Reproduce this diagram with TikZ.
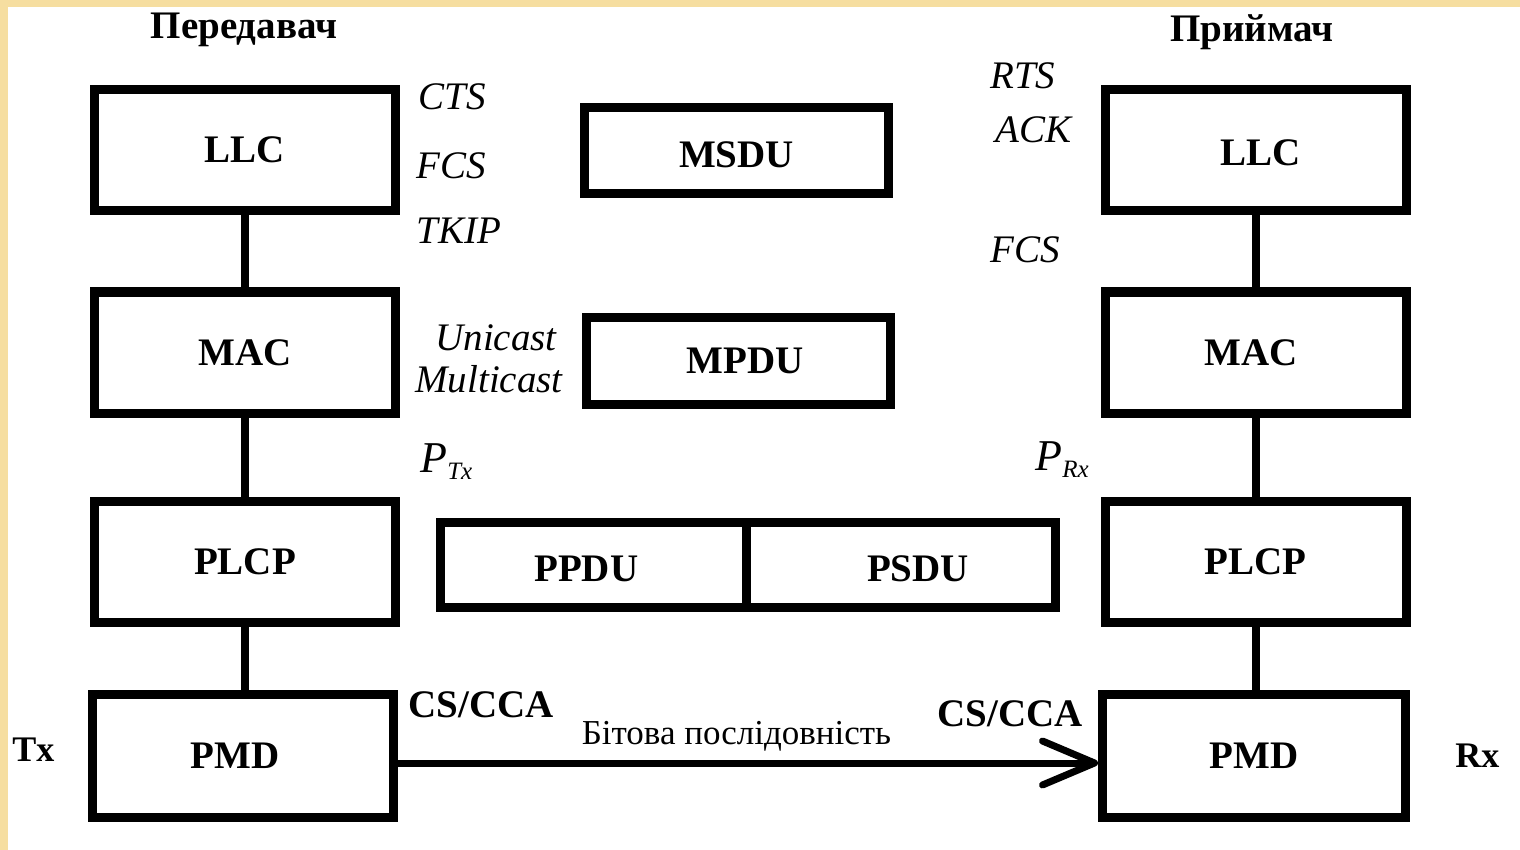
\documentclass[tikz,border=0pt]{standalone}
\usepackage{fontspec}
\setmainfont{Liberation Serif}
\usetikzlibrary{arrows.meta}
\definecolor{framecol}{RGB}{246,222,160}
\newcommand{\lowr}[2]{\raisebox{-#1}[\height][\depth]{#2}}
\begin{document}
\begin{tikzpicture}[x=0.5pt,y=-0.5pt,
  blk/.style={draw, line width=4.5pt, inner sep=0pt, minimum width=150.5pt, minimum height=60.5pt,
              font=\fontsize{19.5}{20}\selectfont\bfseries},
  pdu/.style={draw, line width=4.5pt, inner sep=0pt, minimum height=43pt,
              font=\fontsize{19.5}{20}\selectfont\bfseries},
  lnk/.style={line width=4pt},
  lab/.style={inner sep=0pt, font=\fontsize{19.5}{20}\selectfont\itshape},
  hdr/.style={inner sep=0pt, font=\fontsize{19.5}{20}\selectfont\bfseries},
  sig/.style={inner sep=0pt, font=\fontsize{19.5}{20}\selectfont\bfseries},
  side/.style={inner sep=0pt, font=\fontsize{18}{20}\selectfont\bfseries},
  bits/.style={inner sep=0pt, font=\fontsize{17.5}{20}\selectfont}]
\useasboundingbox (0,0) rectangle (1520,850);
\fill[white] (0,0) rectangle (1520,850);
\fill[framecol] (0,0) rectangle (1520,7);
\fill[framecol] (0,0) rectangle (8,850);

% headers
\node[hdr] (hT) at (244,30) {Передавач};
\node[hdr] (hR) at (1252,32) {Приймач};

% left stack
\node[blk] (llcL) at (245,150) {LLC};
\node[blk] (macL) at (245,352.5) {MAC};
\node[blk] (plcpL) at (245,562) {PLCP};
\node[blk, minimum height=61.5pt] (pmdL) at (243,756) {PMD\hspace*{8pt}};

% right stack
\node[blk] (llcR) at (1255.5,150) {\hspace*{5.5pt}\lowr{1.5pt}{LLC}};
\node[blk] (macR) at (1255.5,352.5) {MAC\hspace*{4.5pt}};
\node[blk] (plcpR) at (1255.5,562) {PLCP};
\node[blk, minimum width=151.5pt, minimum height=61.5pt] (pmdR) at (1254,756) {PMD};

% links
\draw[lnk] (llcL) -- (macL);
\draw[lnk] (macL) -- (plcpL);
\draw[lnk] (plcpL) -- (pmdL.north -| plcpL.south);
\draw[lnk] (llcR) -- (macR);
\draw[lnk] (macR) -- (plcpR);
\draw[lnk] (plcpR) -- (pmdR.north -| plcpR.south);

% data units
\node[pdu, minimum width=152pt] (msdu) at (736.5,150.5) {\lowr{2.25pt}{MSDU}};
\node[pdu, minimum width=152pt, minimum height=43.5pt] (mpdu) at (738.5,361) {\hspace*{6.5pt}MPDU};
\node[pdu, minimum width=152.75pt, minimum height=42.5pt] (ppdu) at (593.25,565) {\lowr{2pt}{PPDU}\hspace*{7pt}};
\node[pdu, minimum width=154.75pt, minimum height=42.5pt] (psdu) at (901,565) {\hspace*{17pt}\lowr{2pt}{PSDU}};

% left labels
\node[lab, anchor=west] (cts) at (418,97) {CTS};
\node[lab, anchor=west] (fcsL) at (416,166) {FCS};
\node[lab, anchor=west] (tkip) at (416,231) {TKIP};
\node[lab] (uni) at (496,338) {Unicast};
\node[lab, anchor=west] (multi) at (415,379) {Multicast};
\node[lab, anchor=west] (ptx) at (420,462) {\fontsize{22}{22}\selectfont P\raisebox{-0.35ex}{\fontsize{12.5}{12}\selectfont Tx}};

% right labels
\node[lab, anchor=west] (rts) at (990,76) {RTS};
\node[lab, anchor=west] (ack) at (995,130) {ACK};
\node[lab, anchor=west] (fcsR) at (990,250) {FCS};
\node[lab, anchor=west] (prx) at (1035,460) {\fontsize{22}{22}\selectfont P\raisebox{-0.35ex}{\fontsize{12.5}{12}\selectfont Rx}};

% bottom
\node[sig, anchor=west] (csL) at (408,705) {CS/CCA};
\node[sig, anchor=west] (csR) at (937,714) {CS/CCA};
\node[bits] (bits) at (736.5,736) {Бітова послідовність};
\node[side, anchor=west] (tx) at (12,750) {Tx};
\node[side, anchor=west] (rx) at (1455,756) {Rx};

\draw[line width=3.5pt, -{Straight Barb[length=26pt,width=22pt,line cap=round,line join=round]}]
  ([yshift=-3.5pt]pmdL.east) -- ([yshift=-3.5pt]pmdR.west);
\end{tikzpicture}
\end{document}
